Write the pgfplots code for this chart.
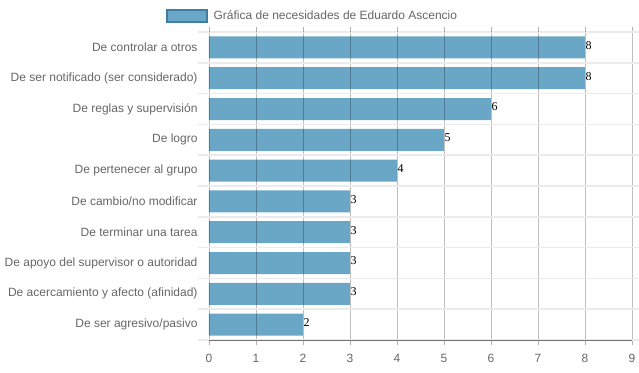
\documentclass[border=0pt]{standalone}
\usepackage{fontspec}
\setmainfont{Liberation Sans}
\newfontfamily\seriffont{Liberation Serif}
\usepackage{pgfplots}
\pgfplotsset{compat=1.18}
\definecolor{barblue}{RGB}{106,166,198}
\definecolor{barborder}{RGB}{62,125,165}
\definecolor{txtgray}{RGB}{102,102,102}
\definecolor{hgrid}{RGB}{235,235,235}
\begin{document}
\begin{tikzpicture}
\useasboundingbox (-209pt,-32pt) rectangle (430pt,340pt);
\begin{axis}[
  name=ax,
  at={(0,0)}, anchor=south west,
  scale only axis, width=423pt, height=308pt,
  xbar, bar width=22pt,
  xmin=0, xmax=9,
  ymin=-0.5, ymax=9.5, y dir=reverse,
  xtick={0,...,9},
  ytick={0,...,9},
  yticklabels={De controlar a otros,De ser notificado (ser considerado),De reglas y supervisión,De logro,De pertenecer al grupo,De cambio/no modificar,De terminar una tarea,De apoyo del supervisor o autoridad,De acercamiento y afecto (afinidad),De ser agresivo/pasivo},
  minor ytick={-0.5,0.5,...,9.5},
  axis line style={draw=none},
  axis on top,
  xmajorgrids, yminorgrids,
  major grid style={black, opacity=0.25, line width=0.8pt},
  minor grid style={hgrid, line width=1.5pt},
  tick align=outside,
  major tick length=5pt,
  minor tick length=11pt,
  x tick style={black, opacity=0.3, line width=0.8pt},
  y tick style={draw=none},
  minor y tick style={draw=hgrid, line width=1.5pt},
  /pgf/number format/assume math mode=true,
  tick label style={font=\fontsize{12}{12}\selectfont, text=txtgray},
  yticklabel style={xshift=-3pt},
  xticklabel style={yshift=-6pt},
  nodes near coords,
  every node near coord/.append style={font=\seriffont\fontsize{12}{12}\selectfont, text=black, anchor=west, inner xsep=0.5pt, yshift=2pt},
  legend style={at={(0.245,1.052)}, anchor=center, draw=none, fill=none, font=\fontsize{12}{12}\selectfont, text=txtgray, /tikz/every odd column/.append style={column sep=4pt}},
  legend image code/.code={\draw[fill=barblue, draw=barborder, line width=1.5pt] (0pt,-6pt) rectangle (40pt,6pt);},
]
\addplot[fill=barblue, draw=none] coordinates {
(8,0) (8,1) (6,2) (5,3) (4,4) (3,5) (3,6) (3,7) (3,8) (2,9)};
\addlegendentry{Gráfica de necesidades de Eduardo Ascencio}
\end{axis}
\draw[black!55, line width=0.8pt] (ax.south west) -- (ax.south east);
\end{tikzpicture}
\end{document}
